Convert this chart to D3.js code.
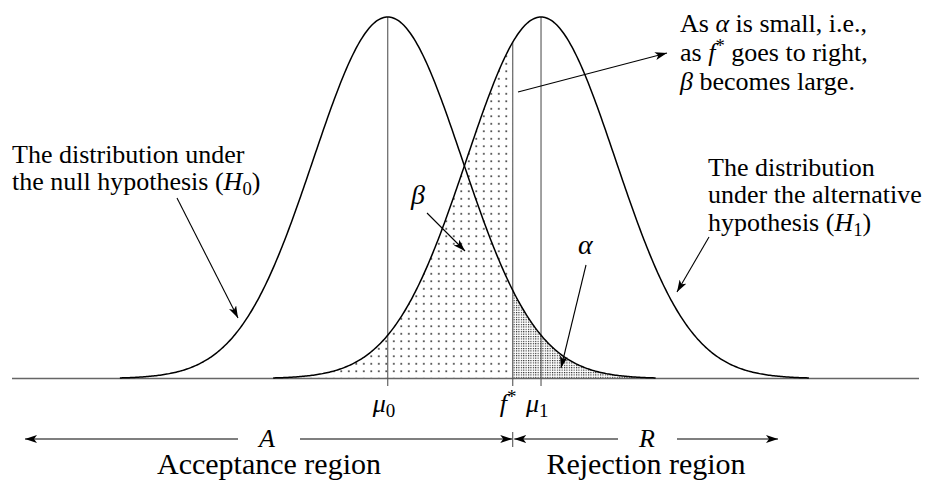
<html>
<head>
<meta charset="utf-8">
<script src="https://cdn.jsdelivr.net/npm/d3@7/dist/d3.min.js"></script>
</head>
<body style="margin:0">
<svg id="s" width="927" height="481"></svg>
<script>
// Two normal distributions (in units of sigma): null H0 and alternative H1
const distNames = ["H0", "H1"];
const distMeans = [0, 2.06];
const distSigma = [1, 1];
const curveHalfWidth = 3.6;      // curves drawn over mean ± 3.6 sigma
const criticalValue = [1.68];    // f*
const axisDomain = [-5.05, 7.14];
const meanLabels = ["μ", "μ"];
const meanSubs = ["0", "1"];
const regionNames = ["Acceptance region", "Rejection region"];
const regionLetters = ["A", "R"];

const svg = d3.select("#s");

const x = d3.scaleLinear().domain(axisDomain).range([12, 919]);
const y = d3.scaleLinear().domain([0, 1]).range([378.5, 17]);

const dens = (v, i) => Math.exp(-0.5 * Math.pow((v - distMeans[i]) / distSigma[i], 2));
const samples = (a, b, n = 400) => d3.range(n + 1).map(k => a + (b - a) * k / n);

const fStar = criticalValue[0];

// fill patterns: sparse dots for beta, fine halftone for alpha
const defs = svg.append("defs");
const sparse = defs.append("pattern").attr("id", "sparse")
  .attr("patternUnits", "userSpaceOnUse").attr("width", 7.5).attr("height", 7.5);
sparse.append("rect").attr("x", 3).attr("y", 3).attr("width", 1.6).attr("height", 1.6).attr("fill", "#222");
const dense = defs.append("pattern").attr("id", "dense")
  .attr("patternUnits", "userSpaceOnUse").attr("width", 2.4).attr("height", 2.4);
dense.append("rect").attr("width", 1.1).attr("height", 1.1).attr("fill", "#111");

const area = i => d3.area().x(d => x(d)).y0(y(0)).y1(d => y(dens(d, i)));
const line = i => d3.line().x(d => x(d)).y(d => y(dens(d, i)));

// beta: area under H1 left of f*
svg.append("path")
  .attr("d", area(1)(samples(distMeans[1] - curveHalfWidth, fStar)))
  .attr("fill", "url(#sparse)");
// alpha: area under H0 right of f*
svg.append("path")
  .attr("d", area(0)(samples(fStar, distMeans[0] + curveHalfWidth)))
  .attr("fill", "url(#dense)");

// baseline
svg.append("line").attr("x1", x(axisDomain[0])).attr("x2", x(axisDomain[1]))
  .attr("y1", y(0)).attr("y2", y(0)).attr("stroke", "#666").attr("stroke-width", 1.4);

// mean lines
distMeans.forEach((m) => {
  svg.append("line").attr("x1", x(m)).attr("x2", x(m))
    .attr("y1", y(1)).attr("y2", 386).attr("stroke", "#555").attr("stroke-width", 1.1);
});
// f* line
svg.append("line").attr("x1", x(fStar)).attr("x2", x(fStar))
  .attr("y1", y(dens(fStar, 1))).attr("y2", 386).attr("stroke", "#555").attr("stroke-width", 1.1);

// density curves
distMeans.forEach((m, i) => {
  svg.append("path")
    .attr("d", line(i)(samples(m - curveHalfWidth, m + curveHalfWidth)))
    .attr("fill", "none").attr("stroke", "#000").attr("stroke-width", 1.5);
});

// arrow marker
defs.append("marker").attr("id", "arr")
  .attr("viewBox", "0 0 12 8").attr("refX", 12).attr("refY", 4)
  .attr("markerWidth", 12).attr("markerHeight", 8)
  .attr("markerUnits", "userSpaceOnUse").attr("orient", "auto")
  .append("path").attr("d", "M0,0 L12,4 L0,8 L3,4 Z").attr("fill", "#000");

function arrow(x1, y1, x2, y2) {
  svg.append("line").attr("x1", x1).attr("y1", y1).attr("x2", x2).attr("y2", y2)
    .attr("stroke", "#000").attr("stroke-width", 1.1).attr("marker-end", "url(#arr)");
}

function label(x0, y0, size) {
  return svg.append("text").attr("x", x0).attr("y", y0).attr("font-size", size)
    .style("font-family", "Liberation Serif");
}

// multi-line annotation; parts may be italic, subscript or superscript
function lines(x0, ys, parts, size) {
  ys.forEach((yy, k) => {
    const t = label(x0, yy, size);
    let shift = 0;
    parts[k].forEach(p => {
      const s = t.append("tspan").text(p.t);
      let target = 0;
      if (p.i) s.attr("font-style", "italic");
      if (p.sub) { s.attr("font-size", size * 0.72); target = 5; }
      if (p.sup) { s.attr("font-size", size * 0.72); target = -9; }
      if (target !== shift) { s.attr("dy", target - shift); shift = target; }
    });
  });
}

lines(12, [163, 190], [
  [{t: "The distribution under"}],
  [{t: "the null hypothesis ("}, {t: "H", i: 1}, {t: "0", sub: 1}, {t: ")"}]
], 26);
arrow(177, 198, 238, 318);

lines(708, [176, 203, 231], [
  [{t: "The distribution"}],
  [{t: "under the alternative"}],
  [{t: "hypothesis ("}, {t: "H", i: 1}, {t: "1", sub: 1}, {t: ")"}]
], 26);
arrow(709, 237, 677, 292);

lines(680, [32, 61, 90], [
  [{t: "As "}, {t: "α", i: 1}, {t: " is small, i.e.,"}],
  [{t: "as "}, {t: "f", i: 1}, {t: "*", sup: 1}, {t: " goes to right,"}],
  [{t: "β", i: 1}, {t: " becomes large."}]
], 26);
arrow(518, 92, 667, 53);

label(411, 204, 28).attr("font-style", "italic").text("β");
arrow(427, 213, 465, 251);
label(578, 254, 28).attr("font-style", "italic").text("α");
arrow(586, 265, 561, 368);

// labels under the baseline
distMeans.forEach((m, i) => {
  const t = label(x(m) - 15, 412, 26);
  t.append("tspan").attr("font-style", "italic").text(meanLabels[i]);
  t.append("tspan").attr("font-size", 19).attr("dy", 5).text(meanSubs[i]);
});
{
  const t = label(x(fStar) - 13, 412, 26);
  t.append("tspan").attr("font-style", "italic").text("f");
  t.append("tspan").attr("font-size", 19).attr("dy", -9).text("*");
}

// acceptance / rejection regions
const yr = 439;
arrow(238, yr, 25, yr);
arrow(300, yr, x(fStar) - 0.5, yr);
arrow(618, yr, x(fStar) + 1.5, yr);
arrow(677, yr, 778, yr);
svg.append("line").attr("x1", x(fStar)).attr("x2", x(fStar)).attr("y1", 432).attr("y2", 447)
  .attr("stroke", "#444").attr("stroke-width", 1);
const letterX = [267, 647];
regionLetters.forEach((r, i) => {
  label(letterX[i], 447, 26).attr("font-style", "italic").attr("text-anchor", "middle").text(r);
});

// region names as page text under the figure
const nameCenters = [269, 646];
regionNames.forEach((name, i) => {
  const d = document.createElement("div");
  d.style.cssText = "position:absolute;top:449px;left:" + nameCenters[i] + "px;" +
    "transform:translateX(-50%);white-space:nowrap;line-height:30px;color:#000;" +
    "font:30px 'Liberation Serif'";
  d.style.lineHeight = "30px";
  d.textContent = name;
  document.body.appendChild(d);
});
</script>
</body>
</html>
